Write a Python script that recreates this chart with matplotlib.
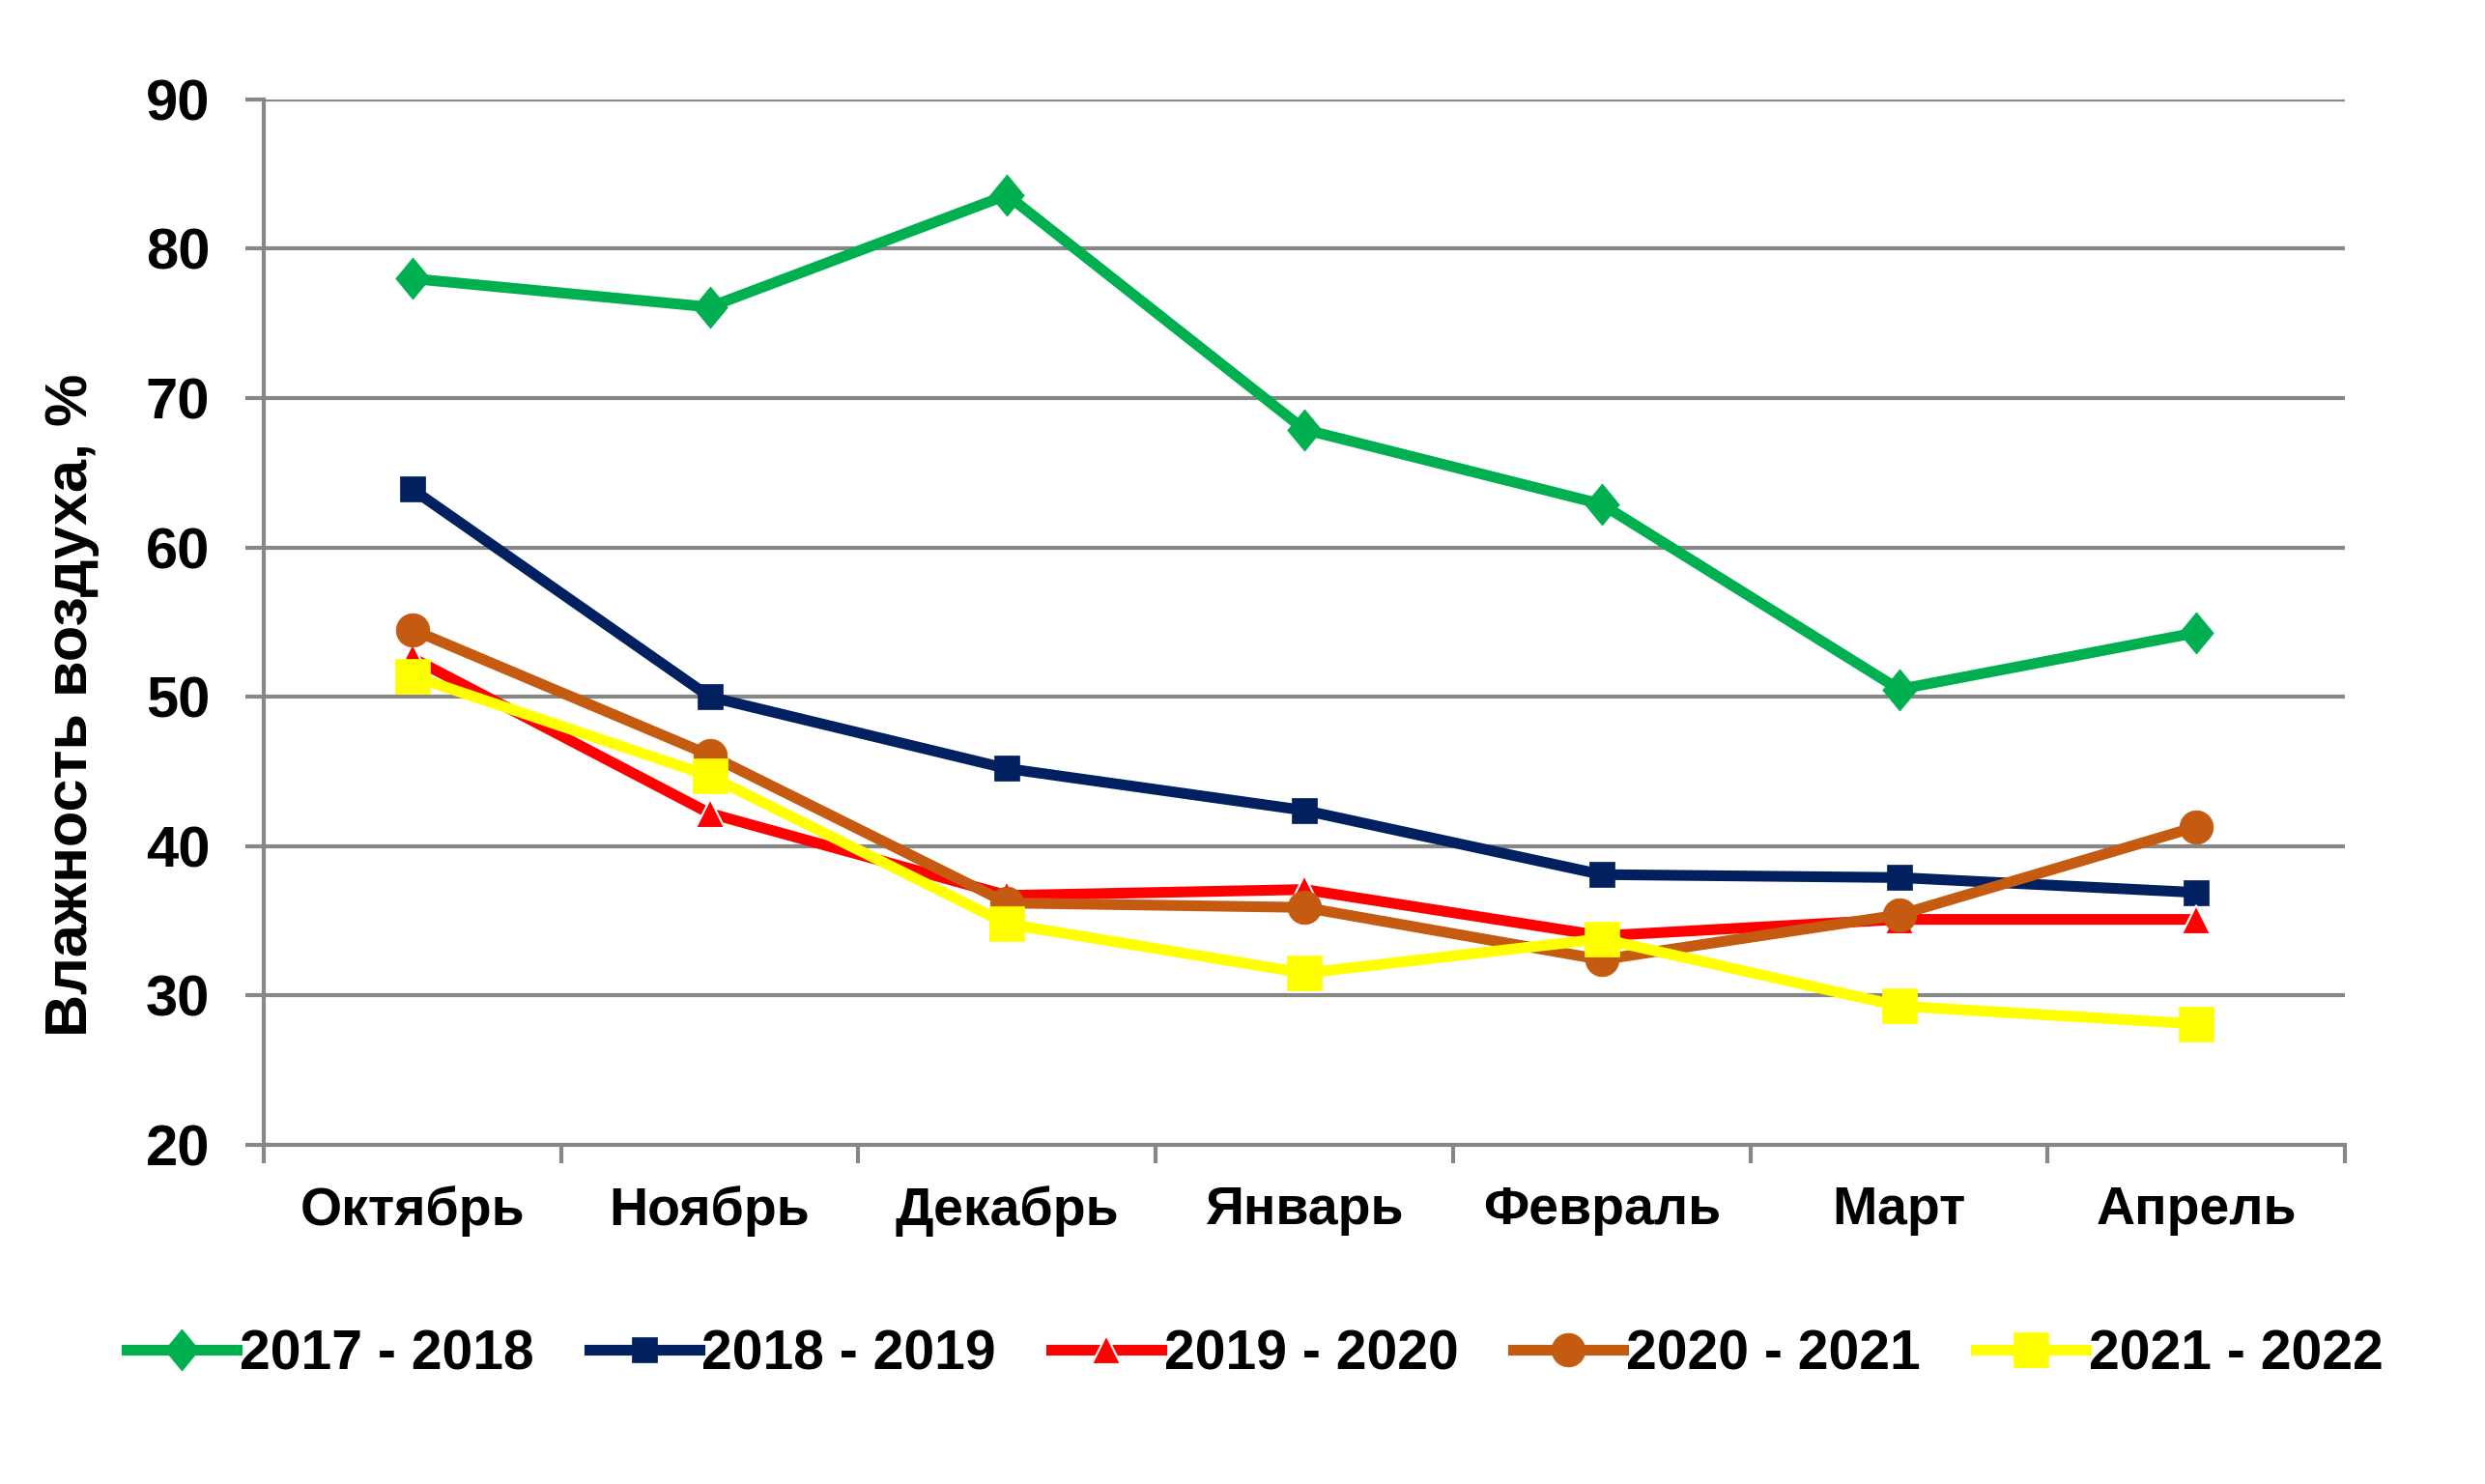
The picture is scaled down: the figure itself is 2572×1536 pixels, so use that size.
import numpy as np
import matplotlib
matplotlib.use("Agg")
import matplotlib.pyplot as plt

plt.rcParams['font.family'] = ['Liberation Sans', 'DejaVu Sans']
plt.rcParams['font.weight'] = 'bold'

# data
months = ['Октябрь', 'Ноябрь', 'Декабрь', 'Январь', 'Февраль', 'Март', 'Апрель']
s2017 = [78.0, 76.1, 83.6, 67.9, 62.9, 50.5, 54.3]
s2018 = [63.9, 50.0, 45.2, 42.4, 38.1, 37.9, 36.9]
s2019 = [52.6, 42.2, 36.7, 37.1, 34.0, 35.1, 35.1]
s2020 = [54.5, 46.1, 36.2, 35.9, 32.4, 35.4, 41.3]
s2021 = [51.4, 44.7, 34.8, 31.5, 33.8, 29.3, 28.1]
seasons = ['2017 - 2018', '2018 - 2019', '2019 - 2020', '2020 - 2021', '2021 - 2022']
yticks = [20, 30, 40, 50, 60, 70, 80, 90]

fig = plt.figure(figsize=(25.72, 15.36), dpi=100)
ax = fig.add_axes([0.1061, 0.2285, 0.8376, 0.7045])

x = np.arange(len(months))
grid_col = '#878787'

# slightly tall diamond like the excel one
tall_diamond = [(0, 1.15), (0.95, 0), (0, -1.15), (-0.95, 0), (0, 1.15)]

#series: values, colour, marker, marker size, edge
series = [
    (s2017, '#00B050', tall_diamond, 31, None),
    (s2018, '#002060', 's', 19, None),
    (s2019, '#FF0000', '^', 21, 'white'),
    (s2020, '#C55A11', 'o', 25, None),
    (s2021, '#FFFF00', 's', 26, None),
]
for (vals, col, mk, ms, ec), name in zip(series, seasons):
    ax.plot(x, vals, color=col, lw=8, marker=mk, ms=ms,
            markeredgecolor=ec if ec else col, markeredgewidth=1.5 if ec else 0.5,
            label=name, zorder=3)

ax.set_xlim(-0.5, len(months) - 0.5)
ax.set_ylim(20, 90)
ax.set_yticks(yticks)
ax.yaxis.grid(True, color=grid_col, lw=3)
ax.set_axisbelow(True)

ax.set_xticks(x)
ax.set_xticklabels(months)
ax.set_xticks(np.arange(len(months) + 1) - 0.5, minor=True)
ax.tick_params(axis='x', which='major', length=0, pad=30, labelsize=40)
ax.tick_params(axis='x', which='minor', length=14, width=3, color=grid_col, direction='out')
ax.tick_params(axis='y', length=14, width=3, color=grid_col, pad=26, labelsize=43)

for sp in ['top', 'right']:
    ax.spines[sp].set_visible(False)
for sp in ['left', 'bottom']:
    ax.spines[sp].set_color(grid_col)
    ax.spines[sp].set_linewidth(3)

fig.text(0.029, 0.525, 'Влажность воздуха, %', rotation=90, ha='center', va='center',
         fontsize=44, fontweight='bold')

fig.legend(loc='center', bbox_to_anchor=(0.505, 0.087), ncol=5, frameon=False,
           fontsize=41, handlelength=2.0, handletextpad=0.05, columnspacing=1.0)

fig.savefig('out.png', dpi=100, facecolor='white')
